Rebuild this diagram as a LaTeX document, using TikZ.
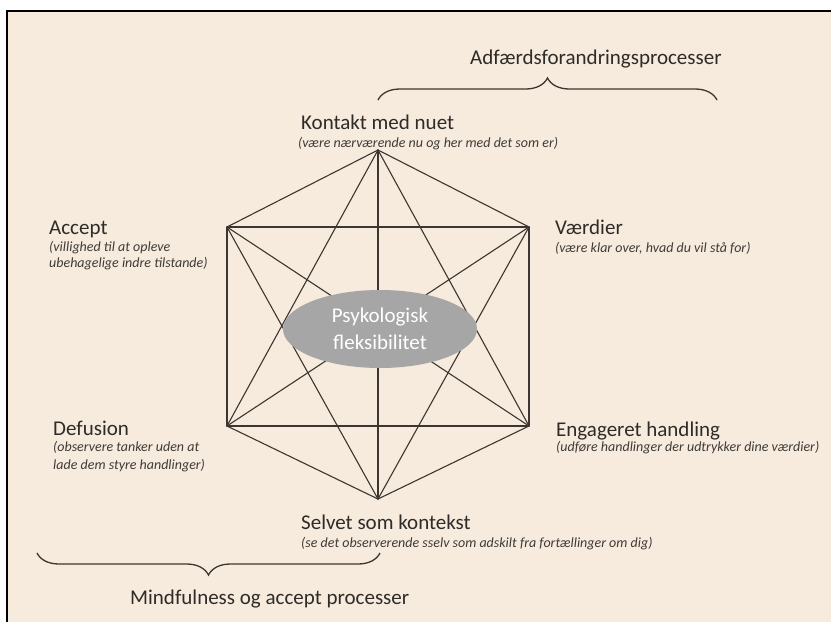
\documentclass[tikz,border=0pt]{standalone}
\usepackage{fontspec}
\setmainfont{Carlito}
\usetikzlibrary{decorations.pathreplacing,shapes.geometric}
\definecolor{bg}{HTML}{F6EBDC}
\definecolor{ln}{HTML}{3B3631}
\definecolor{tx}{HTML}{2E2B28}
\definecolor{sub}{HTML}{3F3B38}
\definecolor{ell}{HTML}{A6A6A6}
\begin{document}
\begin{tikzpicture}[x=1pt,y=-1pt,
  title/.style={font=\fontsize{21}{25}\selectfont, text=tx, inner sep=0pt, anchor=base west},
  desc/.style={font=\fontsize{14}{16}\selectfont\itshape, text=sub, inner sep=0pt, anchor=base west},
  edge/.style={draw=ln, line width=1.1pt, line cap=round},
  bracestyle/.style={draw=ln, line width=1.3pt, decorate, decoration={brace, amplitude=22pt}}]
\useasboundingbox (0,0) rectangle (831,622);
\fill[white] (0,0) rectangle (831,622);
\fill[bg] (7,11) rectangle (831,622);
\draw[black, line width=2pt] (7,622) -- (7,11) -- (831,11);
% vertices
\coordinate (T) at (378,150);
\coordinate (UL) at (227,227);
\coordinate (UR) at (529,227);
\coordinate (LL) at (227,426);
\coordinate (LR) at (529,426);
\coordinate (B) at (378,499);
\foreach \a/\b in {T/UL,T/UR,T/LL,T/LR,T/B,UL/UR,UL/LL,UL/LR,UL/B,UR/LL,UR/LR,UR/B,LL/LR,LL/B,LR/B}
  \draw[edge] (\a) -- (\b);
\node[ellipse, fill=ell, minimum width=194pt, minimum height=78pt, inner sep=0pt,
      font=\fontsize{21}{27}\selectfont, text=white, align=center] (PF) at (380,329) {Psykologisk\\fleksibilitet};
% braces
\coordinate (tb1) at (378,100);
\coordinate (tb2) at (717,100);
\draw[bracestyle] (tb1) -- (tb2);
\coordinate (bb1) at (380,553);
\coordinate (bb2) at (37,553);
\draw[bracestyle] (bb1) -- (bb2);
% labels
\node[title] (adf) at (470,64) {Adfærdsforandringsprocesser};
\node[title] (kon) at (301,129) {Kontakt med nuet};
\node[desc] (kond) at (298,147) {(være nærværende nu og her med det som er)};
\node[title] (acc) at (49,234) {Accept};
\node[desc] (accd1) at (49,251) {(villighed til at opleve};
\node[desc] (accd2) at (49,267) {ubehagelige indre tilstande)};
\node[title] (vaer) at (555,234) {Værdier};
\node[desc] (vaerd) at (555,252) {(være klar over, hvad du vil stå for)};
\node[title] (def) at (53,435) {Defusion};
\node[desc] (defd1) at (53,451) {(observere tanker uden at};
\node[desc] (defd2) at (53,469) {lade dem styre handlinger)};
\node[title] (eng) at (556,436) {Engageret handling};
\node[desc] (engd) at (556,451) {(udføre handlinger der udtrykker dine værdier)};
\node[title] (sel) at (301,529) {Selvet som kontekst};
\node[desc] (seld) at (301,547) {(se det observerende sselv som adskilt fra fortællinger om dig)};
\node[title] (mind) at (130,604) {Mindfulness og accept processer};
\end{tikzpicture}
\end{document}
